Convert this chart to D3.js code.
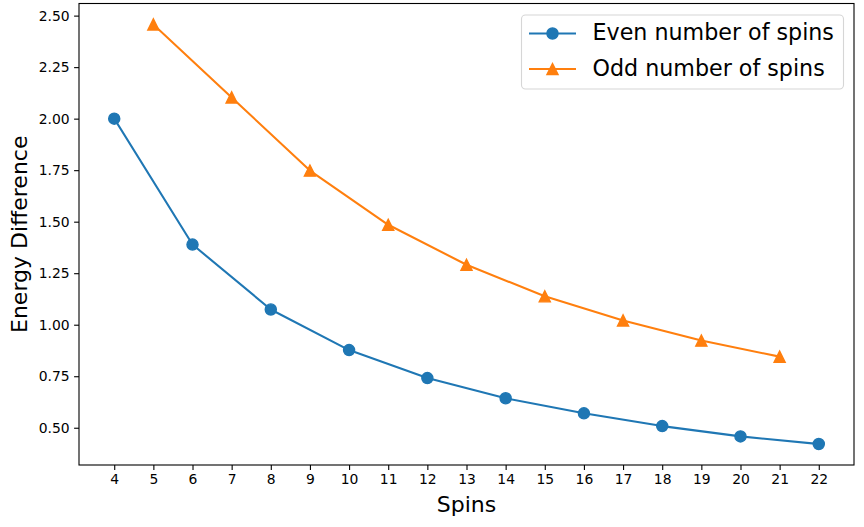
<!DOCTYPE html>
<html lang="en">
  <head>
    <meta charset="UTF-8" />
    <script src="https://cdn.jsdelivr.net/npm/d3@7"></script>
    <style>
      * {
        margin: 0;
        padding: 0;
      }
      body {
        background: #fff;
      }
      #container svg {
        display: block;
        font-family: 'DejaVu Sans', sans-serif;
      }
    </style>
    <title>Energy Difference</title>
  </head>
  <body>
    <div id="container"></div>
  </body>
  <script>
    const evenSpins = [4, 6, 8, 10, 12, 14, 16, 18, 20, 22];
    const evenValues = [2.0, 1.389, 1.074, 0.877, 0.741, 0.643, 0.57, 0.508, 0.458, 0.421];
    const oddSpins = [5, 7, 9, 11, 13, 15, 17, 19, 21];
    const oddValues = [2.457, 2.103, 1.748, 1.485, 1.291, 1.138, 1.021, 0.923, 0.845];
    const xTicks = [4, 5, 6, 7, 8, 9, 10, 11, 12, 13, 14, 15, 16, 17, 18, 19, 20, 21, 22];
    const yTicks = [0.5, 0.75, 1.0, 1.25, 1.5, 1.75, 2.0, 2.25, 2.5];
    const seriesNames = ['Even number of spins', 'Odd number of spins'];

    const width = 864;
    const height = 527;
    const margin = { top: 3.5, right: 10, bottom: 62, left: 79 };
    const blue = '#1f77b4';
    const orange = '#ff7f0e';

    const series = [
      { name: seriesNames[0], color: blue, marker: 'circle', x: evenSpins, y: evenValues },
      { name: seriesNames[1], color: orange, marker: 'triangle', x: oddSpins, y: oddValues },
    ];

    // matplotlib style 5% margins
    const allX = evenSpins.concat(oddSpins);
    const allY = evenValues.concat(oddValues);
    const xMin = d3.min(allX), xMax = d3.max(allX);
    const yMin = d3.min(allY), yMax = d3.max(allY);
    const xPad = (xMax - xMin) * 0.05;
    const yPad = (yMax - yMin) * 0.05;

    const x = d3
      .scaleLinear()
      .domain([xMin - xPad, xMax + xPad])
      .range([margin.left, width - margin.right]);
    const y = d3
      .scaleLinear()
      .domain([yMin - yPad, yMax + yPad])
      .range([height - margin.bottom, margin.top]);

    const svg = d3
      .select('#container')
      .append('svg')
      .attr('width', width)
      .attr('height', height);

    // x axis
    const xAxis = svg
      .append('g')
      .attr('transform', `translate(0,${height - margin.bottom})`)
      .call(d3.axisBottom(x).tickValues(xTicks).tickSize(4.9).tickPadding(4.5).tickFormat(d3.format('d')));
    xAxis.select('.domain').remove();
    xAxis.selectAll('line').attr('stroke', '#000').attr('stroke-width', 1.1);
    xAxis.selectAll('text').attr('font-size', 13.9).attr('fill', '#000').attr('font-family', 'DejaVu Sans');

    // y axis
    const yAxis = svg
      .append('g')
      .attr('transform', `translate(${margin.left},0)`)
      .call(d3.axisLeft(y).tickValues(yTicks).tickSize(4.9).tickPadding(4.5).tickFormat(d3.format('.2f')));
    yAxis.select('.domain').remove();
    yAxis.selectAll('line').attr('stroke', '#000').attr('stroke-width', 1.1);
    yAxis.selectAll('text').attr('font-size', 13.9).attr('fill', '#000').attr('font-family', 'DejaVu Sans');

    // frame
    svg
      .append('rect')
      .attr('x', margin.left)
      .attr('y', margin.top)
      .attr('width', width - margin.left - margin.right)
      .attr('height', height - margin.top - margin.bottom)
      .attr('fill', 'none')
      .attr('stroke', '#000')
      .attr('stroke-width', 1.1);

    const triangle = (size) => {
      const h = size / 2;
      return `M0,${-h}L${-h},${h}L${h},${h}Z`;
    };

    function drawMarker(g, s, cx, cy) {
      if (s.marker === 'circle') {
        g.append('circle')
          .attr('cx', cx)
          .attr('cy', cy)
          .attr('r', 5.55)
          .attr('fill', s.color)
          .attr('stroke', s.color)
          .attr('stroke-width', 1.4);
      } else {
        g.append('path')
          .attr('d', triangle(11.1))
          .attr('transform', `translate(${cx},${cy})`)
          .attr('fill', s.color)
          .attr('stroke', s.color)
          .attr('stroke-width', 1.4)
          .attr('stroke-linejoin', 'miter');
      }
    }

    // lines + markers
    const line = d3
      .line()
      .x((d) => x(d[0]))
      .y((d) => y(d[1]));

    series.forEach((s) => {
      const pts = s.x.map((v, i) => [v, s.y[i]]);
      const g = svg.append('g');
      g.append('path')
        .attr('d', line(pts))
        .attr('fill', 'none')
        .attr('stroke', s.color)
        .attr('stroke-width', 2.08)
        .attr('stroke-linejoin', 'round')
        .attr('stroke-linecap', 'square');
      pts.forEach((p) => drawMarker(g, s, x(p[0]), y(p[1])));
    });

    // axis titles
    svg
      .append('text')
      .text('Spins')
      .attr('x', (margin.left + width - margin.right) / 2)
      .attr('y', 512)
      .attr('text-anchor', 'middle')
      .attr('font-size', 22)
      .attr('fill', '#000');

    svg
      .append('text')
      .text('Energy Difference')
      .attr('transform', `translate(27,${(margin.top + height - margin.bottom) / 2}) rotate(-90)`)
      .attr('text-anchor', 'middle')
      .attr('font-size', 22)
      .attr('fill', '#000');

    // legend
    const legend = svg.append('g');
    legend
      .append('rect')
      .attr('x', 521.5)
      .attr('y', 15)
      .attr('width', 322)
      .attr('height', 74)
      .attr('rx', 4)
      .attr('fill', 'rgba(255,255,255,0.8)')
      .attr('stroke', '#d6d6d6')
      .attr('stroke-width', 1.1);

    const rowY = [33.5, 69];
    series.forEach((s, i) => {
      legend
        .append('line')
        .attr('x1', 529)
        .attr('x2', 576)
        .attr('y1', rowY[i])
        .attr('y2', rowY[i])
        .attr('stroke', s.color)
        .attr('stroke-width', 2.08);
      drawMarker(legend, s, 552.5, rowY[i]);
      legend
        .append('text')
        .text(s.name)
        .attr('x', 592.5)
        .attr('y', rowY[i] + 6.5)
        .attr('font-size', 22.2)
        .attr('fill', '#000');
    });
  </script>
</html>
